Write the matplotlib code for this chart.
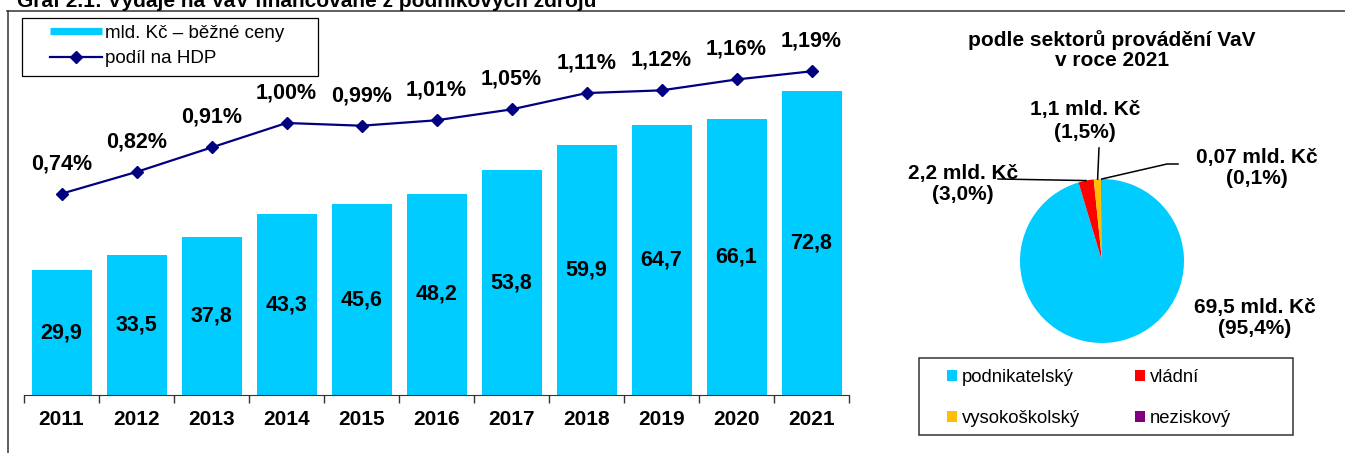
import numpy as np
import matplotlib
matplotlib.use("Agg")
import matplotlib.pyplot as plt
from matplotlib.lines import Line2D
from matplotlib.patches import Patch, Rectangle

plt.rcParams['font.family'] = ['Liberation Sans', 'DejaVu Sans']

# ---------------- data ----------------
years = ['2011', '2012', '2013', '2014', '2015', '2016', '2017', '2018', '2019', '2020', '2021']
spend_bn = [29.9, 33.5, 37.8, 43.3, 45.6, 48.2, 53.8, 59.9, 64.7, 66.1, 72.8]
gdp_share = [0.74, 0.82, 0.91, 1.00, 0.99, 1.01, 1.05, 1.11, 1.12, 1.16, 1.19]

sectors = ['podnikatelský', 'vládní', 'vysokoškolský', 'neziskový']
sector_bn = [69.5, 2.2, 1.1, 0.07]
sector_pct = [95.4, 3.0, 1.5, 0.1]
sector_lbl_bn = ['69,5', '2,2', '1,1', '0,07']

CYAN = '#00CCFF'
NAVY = '#000080'
sector_colors = [CYAN, '#FF0000', '#FFC000', '#800080']

# ---------------- figure ----------------
W, H = 1345, 453
fig = plt.figure(figsize=(W / 100, H / 100), dpi=100)


def fx(px):
    return px / W


def fy(py):
    return 1 - py / H


# outer frame (top + left edge) and title cut by the top edge
fig.add_artist(Line2D([fx(7), 1], [fy(11), fy(11)], color='#333333', lw=1.1))
fig.add_artist(Line2D([fx(8), fx(8)], [fy(11), 0], color='#333333', lw=1.1))
fig.text(fx(17), fy(7), 'Graf 2.1: Výdaje na VaV financované z podnikových zdrojů',
         fontsize=15, fontweight='bold', va='baseline', ha='left')

# ---------------- bar + line chart ----------------
ax = fig.add_axes([fx(24), fy(395), (849 - 24) / W, (395 - 18) / H])
x = np.arange(len(years))
ax.bar(x, spend_bn, width=0.8, color=CYAN, zorder=2)
ax.set_xlim(-0.5, len(years) - 0.5)
ax.set_ylim(0, 90.2)
for i, v in enumerate(spend_bn):
    ax.text(i, v / 2, f"{v:.1f}".replace('.', ','), ha='center', va='center',
            fontsize=15.5, fontweight='bold', zorder=3)

ax.set_xticks(x)
ax.set_xticklabels(years, fontsize=15, fontweight='bold')
ax.set_xticks(np.arange(-0.5, len(years)), minor=True)
ax.tick_params(axis='x', which='major', length=0, pad=11)
ax.tick_params(axis='x', which='minor', length=6, width=1, color='#333333')
ax.set_yticks([])
for s in ['top', 'left', 'right']:
    ax.spines[s].set_visible(False)
ax.spines['bottom'].set_color('#333333')

ax2 = ax.twinx()
ax2.plot(x, gdp_share, color=NAVY, lw=1.6, marker='D', ms=6.5, mfc=NAVY, mec=NAVY, zorder=3)
ax2.set_ylim(0, 1.386)
ax2.set_yticks([])
for s in ['top', 'left', 'right', 'bottom']:
    ax2.spines[s].set_visible(False)
for i, v in enumerate(gdp_share):
    ax2.annotate(f"{v:.2f}%".replace('.', ','), (i, v), xytext=(0, 30),
                 textcoords='offset pixels', ha='center', va='center',
                 fontsize=15.5, fontweight='bold')

# left legend
handles = [Line2D([], [], color=CYAN, lw=5.2, solid_capstyle='butt'),
           Line2D([], [], color=NAVY, lw=1.6, marker='D', ms=6.5)]
fig.legend(handles, ['mld. Kč – běžné ceny', 'podíl na HDP'], loc='center left',
           bbox_to_anchor=(fx(50), fy(46)), frameon=False, fontsize=13.5,
           borderpad=0, borderaxespad=0, handlelength=2.75, handletextpad=0.2,
           labelspacing=0.45)
fig.add_artist(Rectangle((fx(22), fy(76)), fx(318) - fx(22), fy(18) - fy(76),
                         fill=False, edgecolor='black', lw=0.9, transform=fig.transFigure))

# ---------------- pie ----------------
cx, cy, r = 1102, 261, 82
pax = fig.add_axes([fx(cx - r), fy(cy + r), 2 * r / W, 2 * r / H])
wedges, _ = pax.pie(sector_bn, colors=sector_colors, startangle=90, counterclock=False,
                    radius=1, wedgeprops=dict(linewidth=0))
pax.set_xlim(-1, 1)
pax.set_ylim(-1, 1)


def pd_(px, py):
    return ((px - cx) / r, (cy - py) / r)


fig.text(fx(1112), fy(50), 'podle sektorů provádění VaV\nv roce 2021', ha='center',
         va='center', fontsize=15, fontweight='bold', linespacing=1.05)

label_pos = [pd_(1255, 318), pd_(963, 184), pd_(1085, 121), pd_(1257, 168)]
leader_ends = [None, [pd_(998, 179)], [pd_(1099, 148)], [pd_(1167, 164), pd_(1178, 164)]]
for w, bn, pct, pos, ends in zip(wedges, sector_lbl_bn, sector_pct, label_pos, leader_ends):
    pax.text(pos[0], pos[1], f"{bn} mld. Kč\n({pct:.1f}%)".replace('.', ',').replace('mld,', 'mld.'),
             ha='center', va='center', fontsize=15, fontweight='bold', linespacing=1.2,
             clip_on=False)
    if ends:
        a = np.deg2rad((w.theta1 + w.theta2) / 2)
        pts = [(np.cos(a), np.sin(a))] + ends
        pax.plot([p[0] for p in pts], [p[1] for p in pts], color='black', lw=1.1,
                 clip_on=False)

# pie legend
phandles = [Patch(facecolor=c, edgecolor='none') for c in sector_colors]
order = [0, 2, 1, 3]
fig.legend([phandles[i] for i in order], [sectors[i] for i in order], ncol=2,
           loc='center left', bbox_to_anchor=(fx(947), fy(398)), frameon=False,
           fontsize=13.3, borderpad=0, borderaxespad=0, handlelength=0.55,
           handleheight=0.55, handletextpad=0.25, columnspacing=3.0, labelspacing=1.3)
fig.add_artist(Rectangle((fx(919), fy(435)), fx(1293) - fx(919), fy(358) - fy(435),
                         fill=False, edgecolor='#333333', lw=1.1, transform=fig.transFigure))

fig.savefig('out.png', dpi=100)
